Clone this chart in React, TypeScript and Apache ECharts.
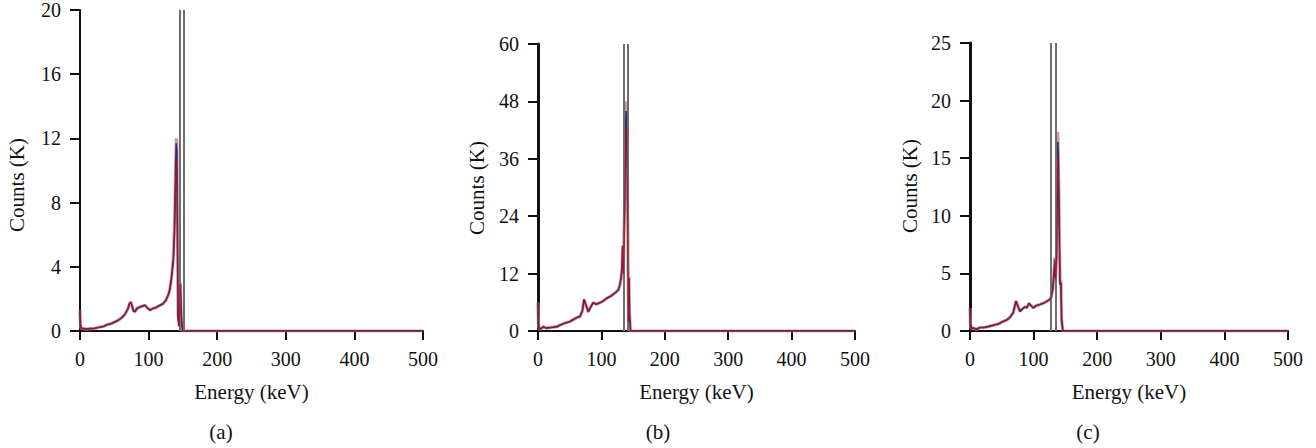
import React, { useEffect, useRef } from "react";
import * as echarts from "echarts";

// ---------- Panel (a) ----------
const aContEnergy = [0, 0.6, 2, 5, 10, 15, 20, 25, 30, 35, 40, 45, 50, 55, 60, 65, 70, 72, 74.3, 76, 78, 80, 83, 87.5, 91, 94.8, 98, 102, 106, 110, 116.6, 121, 125, 128.7, 131];
const aContCounts = [1.3, 0.4, 0.15, 0.15, 0.12, 0.15, 0.15, 0.2, 0.25, 0.3, 0.4, 0.45, 0.55, 0.65, 0.8, 1.0, 1.4, 1.7, 1.8, 1.55, 1.25, 1.2, 1.4, 1.5, 1.55, 1.6, 1.45, 1.3, 1.4, 1.45, 1.6, 1.7, 1.9, 2.25, 2.6];
const aPeakEnergy = [133, 134.5, 136, 137.5, 138.5, 139.5, 140.3, 141.2, 142, 143, 144.5, 145.5, 146.3, 147.5, 149, 150, 500];
const aPeakPink = [3.2, 3.8, 4.5, 6.2, 8.0, 10.5, 12.0, 11.8, 7.0, 1.0, 0.3, 2.0, 3.0, 1.2, 0.2, 0, 0];
const aPeakBlue = [3.2, 3.8, 4.4, 6.0, 7.8, 10.2, 11.7, 11.2, 6.5, 0.8, 0.3, 1.8, 2.9, 1.0, 0.2, 0, 0];
const aPeakRed = [3.1, 3.7, 4.3, 5.8, 7.5, 9.8, 10.6, 10.3, 6.0, 0.7, 0.3, 1.8, 2.9, 1.0, 0.2, 0, 0];
const aWindow = [144.7, 150.6];

// ---------- Panel (b) ----------
const bContEnergy = [0, 0.6, 2, 5, 8.4, 13, 18, 24, 29.5, 36, 42, 50.5, 56, 61, 66, 70, 72.6, 75.5, 79.4, 83, 87, 92, 97.8, 103, 108, 113.6, 118, 122, 126.7, 129, 131, 132.5, 133.6];
const bContCounts = [6.0, 1.5, 0.4, 0.5, 0.9, 0.6, 0.7, 0.8, 0.9, 1.3, 1.6, 2.0, 2.4, 2.8, 3.0, 4.2, 6.6, 5.5, 4.0, 5.0, 5.9, 5.6, 5.9, 6.3, 6.8, 7.2, 7.6, 8.0, 8.6, 9.6, 11.0, 13.0, 17.8];
const bPeakEnergy = [134.8, 136.5, 137.8, 139.0, 140.0, 141.0, 142.0, 142.8, 143.5, 144.5, 146, 500];
const bPeakPink = [14, 26, 40, 48, 46, 34, 14, 2, 11.5, 3, 0, 0];
const bPeakBlue = [13, 25, 38, 46, 44, 32, 13, 2, 11.0, 3, 0, 0];
const bPeakRed = [12, 24, 36, 42.5, 43, 30, 12, 2, 11.0, 3, 0, 0];
const bWindow = [135.4, 141.7];

// ---------- Panel (c) ----------
const cContEnergy = [0, 0.7, 2, 5, 10.5, 16, 22, 30, 36.7, 44, 51, 57.7, 63, 68, 72.3, 75, 78.6, 82, 86.5, 89, 92.8, 96, 99.5, 104, 110, 115, 120, 125.8, 128, 130];
const cContCounts = [2.0, 0.6, 0.2, 0.25, 0.15, 0.3, 0.3, 0.4, 0.5, 0.6, 0.8, 0.95, 1.2, 1.6, 2.6, 2.2, 1.7, 1.9, 2.1, 2.0, 2.4, 2.2, 2.0, 2.2, 2.3, 2.4, 2.55, 2.75, 3.0, 3.6];
const cPeakEnergy = [131, 132.5, 133.6, 134.7, 136, 137, 138, 139, 140, 141.5, 143, 144, 146, 500];
const cPeakPink = [4.2, 5.5, 6.4, 4.7, 6.5, 12, 17.3, 15, 11, 4.2, 4.4, 1, 0, 0];
const cPeakBlue = [4.2, 5.4, 6.2, 4.6, 6.3, 11.5, 16.4, 14.5, 10.5, 4.0, 4.2, 1, 0, 0];
const cPeakRed = [4.1, 5.3, 6.0, 4.5, 6.0, 11, 15.1, 13.8, 10.2, 4.0, 4.2, 1, 0, 0];
const cWindow = [126.9, 135.2];

// ---------- Axes ----------
const energyRange = [0, 500];
const energyStep = 100;
const countMax = [20, 60, 25];
const countStep = [4, 12, 5];
const panelLabels = ["(a)", "(b)", "(c)"];
const xAxisTitle = "Energy (keV)";
const yAxisTitle = "Counts (K)";

const FONT = "'Liberation Serif', 'DejaVu Serif', serif";

function pairs(e1: number[], c1: number[], e2: number[], c2: number[]) {
  const out: number[][] = [];
  e1.forEach((e, i) => out.push([e, c1[i]]));
  e2.forEach((e, i) => out.push([e, c2[i]]));
  return out;
}

export default function App() {
  const ref = useRef<HTMLDivElement>(null);
  useEffect(() => {
    if (!ref.current) return;
    const chart = echarts.init(ref.current, undefined, { renderer: "svg" });

    const grids = [
      { left: 80, top: 10, width: 343, height: 321 },
      { left: 538, top: 44, width: 317, height: 287 },
      { left: 970, top: 43, width: 318, height: 288 },
    ];
    const panels = [
      { ce: aContEnergy, cc: aContCounts, pe: aPeakEnergy, pk: [aPeakPink, aPeakBlue, aPeakRed], win: aWindow },
      { ce: bContEnergy, cc: bContCounts, pe: bPeakEnergy, pk: [bPeakPink, bPeakBlue, bPeakRed], win: bWindow },
      { ce: cContEnergy, cc: cContCounts, pe: cPeakEnergy, pk: [cPeakPink, cPeakBlue, cPeakRed], win: cWindow },
    ];
    const colors = ["rgba(200,130,135,0.8)", "#2c2878", "#a8142c"];
    const widths = [3.2, 1.6, 1.0];
    const axisW = [2, 3, 3];

    const xAxis = grids.map((_, i) => ({
      type: "value",
      gridIndex: i,
      min: energyRange[0],
      max: energyRange[1],
      interval: energyStep,
      name: xAxisTitle,
      nameLocation: "middle",
      nameGap: 50,
      nameTextStyle: { fontFamily: FONT, fontSize: 21, color: "#111" },
      axisLine: { show: true, lineStyle: { color: "#111", width: 2 } },
      axisTick: { show: true, length: 9, lineStyle: { color: "#111", width: 2 } },
      axisLabel: { fontFamily: FONT, fontSize: 20, color: "#111", margin: 18 },
      splitLine: { show: false },
    }));
    const yAxis = grids.map((_, i) => ({
      type: "value",
      gridIndex: i,
      min: 0,
      max: countMax[i],
      interval: countStep[i],
      axisLine: { show: true, lineStyle: { color: "#111", width: axisW[i] } },
      axisTick: { show: true, length: 10, lineStyle: { color: "#111", width: 2 } },
      axisLabel: { fontFamily: FONT, fontSize: 20, color: "#111", margin: 19 },
      splitLine: { show: false },
    }));

    const series: any[] = [];
    panels.forEach((p, i) => {
      p.pk.forEach((peak, k) => {
        series.push({
          type: "line",
          xAxisIndex: i,
          yAxisIndex: i,
          showSymbol: false,
          symbol: "none",
          silent: true,
          data: pairs(p.ce, p.cc, p.pe, peak),
          lineStyle: { color: colors[k], width: widths[k] },
          z: 3 + k,
          markLine:
            k === 0
              ? {
                  silent: true,
                  symbol: ["none", "none"],
                  label: { show: false },
                  lineStyle: { color: "#6f6f6f", width: 2, type: "solid" },
                  data: p.win.map((v) => ({ xAxis: v })),
                }
              : undefined,
        });
      });
    });

    const captionX = [221, 658, 1088];
    const yNameX = [17, 477, 910];
    const yNameY = [185, 188, 186];
    const graphic: any[] = [];
    panelLabels.forEach((t, i) => {
      graphic.push({
        type: "text",
        x: captionX[i],
        y: 432,
        style: { text: t, fontFamily: FONT, fontSize: 21, fill: "#111", align: "center", verticalAlign: "middle" },
      });
      graphic.push({
        type: "text",
        x: yNameX[i],
        y: yNameY[i],
        rotation: Math.PI / 2,
        style: { text: yAxisTitle, fontFamily: FONT, fontSize: 21, fill: "#111", align: "center", verticalAlign: "middle" },
      });
    });

    chart.setOption({
      animation: false,
      grid: grids,
      xAxis,
      yAxis,
      series,
      graphic,
    });
    return () => chart.dispose();
  }, []);
  return (
    <div
      ref={ref}
      style={{ position: "fixed", left: 0, top: 0, width: 1316, height: 448, background: "#fff" }}
    />
  );
}
